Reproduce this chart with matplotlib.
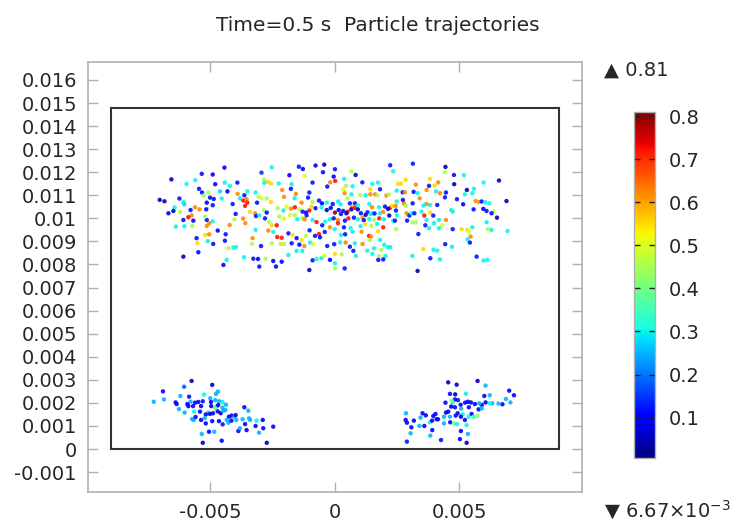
import numpy as np
import matplotlib
matplotlib.use("Agg")
import matplotlib.pyplot as plt
from matplotlib.patches import Rectangle

# Particle positions at t = 0.5 s, (x [mm], y [mm], speed [m/s])
upper_pts = [
    (-4.44,12.20,.10),(-2.54,12.21,.30),(-1.45,12.24,.12),(-1.29,12.14,.10),(-0.78,12.29,.10),(-0.43,12.33,.05),(-0.48,12.00,.12),(0.00,12.13,.12),
    (-5.35,11.93,.12),(-4.91,11.90,.10),(-2.95,11.98,.15),(-1.83,11.87,.10),(-1.22,11.84,.50),(-0.05,11.81,.10),
    (-6.57,11.69,.05),(-5.61,11.65,.30),(-2.85,11.69,.45),(-2.69,11.59,.55),(-2.58,11.51,.55),(-2.84,11.54,.30),(-2.26,11.51,.30),(-1.74,11.48,.30),(-0.90,11.55,.12),(-0.19,11.56,.62),(0.01,11.62,.72),
    (-5.96,11.49,.30),(-4.81,11.48,.10),(-4.43,11.55,.30),(-3.92,11.55,.12),(-4.22,11.41,.30),
    (-5.46,11.28,.12),(-4.62,11.17,.28),(-4.32,11.17,.10),(-5.34,11.12,.10),(-5.09,11.12,.45),(-5.27,11.00,.42),(-3.91,11.06,.62),(-3.64,11.00,.12),(-3.52,11.17,.30),(-3.19,11.12,.30),(-2.12,11.23,.62),(-1.77,11.28,.12),(-1.57,11.06,.62),(-1.03,11.12,.12),(-0.31,11.38,.12),
    (-7.04,10.80,.05),(-6.85,10.74,.05),(-6.25,10.86,.12),(-6.09,10.70,.30),(-5.02,10.90,.12),(-4.87,10.84,.12),(-4.55,10.86,.30),(-4.11,10.62,.12),(-3.82,10.87,.30),(-3.68,10.77,.72),(-3.55,10.83,.62),(-3.07,10.93,.45),(-2.95,10.87,.50),(-3.13,10.68,.12),(-2.74,10.86,.45),(-2.58,10.71,.55),(-2.05,10.93,.62),(-1.62,10.87,.30),(-1.34,10.68,.62),(-1.08,10.90,.12),(-0.90,10.70,.45),(-0.64,10.77,.12),(-0.52,10.65,.10),(-0.33,10.68,.30),(-0.09,10.62,.12),(0.13,10.73,.30),
    (-6.44,10.47,.30),(-6.05,10.61,.28),(-6.49,10.32,.05),(-6.69,10.22,.10),(-6.22,10.28,.45),(-5.80,10.36,.12),(-5.62,10.48,.62),(-5.44,10.39,.62),(-5.17,10.39,.10),(-4.91,10.57,.12),(-5.15,10.68,.10),(-3.61,10.54,.72),(-3.52,10.68,.72),(-3.41,10.28,.55),(-3.21,10.22,.62),(-2.85,10.36,.45),(-2.74,10.25,.12),(-2.30,10.44,.45),(-2.07,10.34,.30),(-1.94,10.51,.50),(-1.77,10.42,.62),(-1.61,10.48,.72),(-1.43,10.39,.45),(-1.30,10.29,.12),(-1.16,10.25,.10),(-1.03,10.34,.72),(-0.94,10.51,.55),(-0.78,10.44,.12),(-0.54,10.48,.30),(-0.33,10.36,.05),(-0.17,10.45,.10),(0.00,10.25,.80),(0.15,10.36,.10),
    (-6.09,9.93,.12),(-5.76,10.13,.62),(-5.89,10.05,.72),(-5.69,9.90,.10),(-5.15,9.93,.12),(-5.22,10.08,.45),(-4.91,9.87,.30),(-4.04,9.95,.45),(-3.99,10.19,.12),(-3.69,9.99,.62),(-3.60,9.79,.62),(-3.17,10.10,.12),(-3.04,10.13,.30),(-2.81,10.00,.12),(-2.64,9.84,.45),(-2.54,9.70,.55),(-2.34,9.70,.72),(-2.24,10.08,.45),(-2.05,9.99,.50),(-1.81,10.13,.50),(-1.61,10.13,.45),(-1.51,9.96,.30),(-1.31,10.00,.45),(-1.22,9.96,.62),(-1.14,10.13,.12),(-0.90,9.93,.30),(-0.74,9.84,.72),(-0.51,9.70,.12),(-0.39,9.86,.30),(-0.20,9.96,.30),(-0.05,10.00,.12),(0.12,9.93,.62),
    (-6.39,9.64,.30),(-6.05,9.66,.30),(-5.73,9.67,.45),(-5.15,9.67,.62),(-5.05,9.79,.62),(-4.71,9.47,.10),(-4.23,9.71,.62),(-4.39,9.31,.12),(-3.19,9.50,.30),(-3.31,9.14,.62),(-2.68,9.47,.62),(-2.48,9.41,.30),(-2.32,9.19,.72),(-2.14,9.16,.72),(-1.87,9.35,.12),(-1.70,9.28,.55),(-1.54,9.14,.12),(-1.34,9.06,.55),(-1.16,9.24,.45),(-1.02,9.48,.12),(-0.80,9.24,.12),(-0.64,9.32,.72),(-0.41,9.41,.12),(-0.20,9.61,.62),(-0.01,9.53,.30),(0.12,9.79,.72),
    (-5.56,9.14,.12),(-5.53,8.92,.55),(-5.21,9.28,.55),(-5.05,9.31,.62),(-5.11,9.01,.30),(-4.89,8.89,.12),(-4.42,9.03,.12),(-4.08,8.73,.30),(-4.28,8.70,.45),(-3.98,8.75,.30),(-3.33,8.89,.45),(-2.97,8.80,.12),(-2.54,8.92,.45),(-2.18,8.89,.55),(-2.05,8.89,.45),(-1.74,8.92,.12),(-1.43,8.86,.10),(-1.23,8.80,.62),(-1.00,8.95,.30),(-0.87,8.89,.50),(-0.60,9.18,.12),(-0.31,8.80,.12),(-0.03,8.88,.12),
    (-6.09,8.34,.05),(-5.49,8.53,.10),(-3.65,8.31,.30),(-3.28,8.25,.12),(-3.09,8.24,.10),(-2.78,8.25,.45),(-2.48,8.15,.10),(-2.14,8.12,.10),(-1.87,8.41,.30),(-1.54,8.59,.30),(-1.31,8.59,.30),(-0.90,8.18,.12),(-0.74,8.24,.30),(-0.54,8.27,.30),(-0.43,8.38,.50),(-0.20,8.20,.10),(0.00,8.46,.55),(0.00,8.05,.30),
    (-4.35,8.20,.30),(-4.48,7.98,.10),(-3.04,7.91,.12),(-2.37,7.91,.10),(-1.03,7.76,.05),(0.00,7.83,.45),
    (2.22,12.30,.12),(3.13,12.37,.12),(2.34,12.04,.30),(4.44,12.23,.05),(4.42,12.01,.45),(4.78,11.88,.12),(5.18,11.87,.30),(0.83,11.88,.05),(0.66,12.03,.45),(0.37,11.71,.30),(6.59,11.64,.05),(5.97,11.55,.30),
    (1.10,11.56,.12),(1.50,11.49,.30),(1.73,11.55,.30),(0.71,11.39,.30),(0.44,11.41,.45),(0.33,11.26,.50),(1.42,11.26,.55),(1.81,11.26,.12),(2.54,11.51,.55),(2.65,11.51,.55),(2.84,11.67,.55),(3.25,11.46,.62),(3.82,11.71,.55),(4.15,11.56,.62),(4.00,11.42,.55),(3.78,11.41,.12),(4.79,11.48,.05),(5.30,11.23,.05),(5.58,11.28,.30),(4.46,11.12,.12),(4.42,10.91,.12),
    (0.39,11.09,.62),(0.66,11.04,.30),(1.02,11.01,.45),(1.23,11.00,.30),(1.42,11.04,.62),(1.61,11.04,.62),(1.71,10.99,.45),(2.07,10.99,.62),(2.16,11.03,.45),(2.48,11.20,.30),(2.72,11.13,.12),(2.81,11.13,.62),(3.16,11.15,.12),(3.32,11.09,.30),(3.68,11.23,.62),(4.06,11.17,.30),(4.22,11.09,.62),(3.40,10.87,.62),(3.12,10.65,.12),(2.77,10.65,.62),(2.85,10.54,.45),(2.48,10.73,.30),(2.73,10.80,.12),
    (5.22,11.04,.30),(5.52,11.09,.30),(4.90,10.83,.12),(5.15,10.61,.10),(4.67,10.36,.30),(4.73,10.29,.30),(5.65,10.75,.62),(5.76,10.71,.60),(5.89,10.73,.12),(6.04,10.70,.30),(6.20,10.65,.30),(5.96,10.41,.10),(6.09,10.32,.12),(6.36,10.29,.45),(6.29,10.22,.12),(5.57,10.39,.12),(6.89,10.75,.05),(6.51,10.03,.05),(6.09,9.83,.30),
    (0.51,10.87,.45),(0.60,10.65,.12),(0.80,10.65,.12),(0.23,10.61,.30),(0.92,10.57,.30),(1.38,10.62,.30),(1.49,10.48,.62),(1.77,10.48,.30),(1.94,10.28,.62),(2.01,10.51,.12),(2.21,10.45,.72),(2.30,10.54,.55),(2.13,10.41,.05),(2.44,10.54,.62),(0.68,10.47,.62),(0.51,10.29,.72),(0.33,10.32,.12),(0.46,10.22,.05),(0.24,10.19,.12),
    (0.66,10.39,.05),(0.79,10.45,.72),(0.92,10.39,.05),(1.04,10.22,.12),(1.23,10.15,.05),(1.31,10.26,.12),(1.43,10.19,.30),(1.51,10.22,.30),(1.59,10.21,.12),(1.81,10.22,.30),(2.18,10.12,.05),(2.45,10.34,.12),(2.49,10.13,.30),(2.88,10.22,.62),(2.99,10.12,.12),(3.08,10.22,.30),(3.19,10.22,.12),(3.48,10.29,.30),(3.59,10.12,.72),(3.82,10.25,.55),(3.95,10.12,.12),(4.11,10.58,.12),(3.82,10.58,.30),(3.67,10.62,.62),(3.55,10.55,.30),
    (0.40,9.90,.12),(0.54,10.00,.72),(0.76,10.03,.12),(0.92,9.96,.30),(1.11,10.03,.62),(1.16,9.92,.12),(1.38,9.97,.30),(1.57,9.93,.45),(1.78,10.00,.72),(1.97,9.96,.30),(2.34,9.90,.30),(2.41,9.90,.12),(2.90,9.90,.12),(3.11,9.82,.45),(3.25,9.82,.45),(3.63,9.70,.12),(3.78,9.57,.30),(3.68,9.93,.30),(4.18,9.93,.30),(3.98,9.79,.30),(4.46,9.93,.62),(4.31,9.71,.50),(4.18,9.57,.30),
    (0.36,9.61,.12),(0.63,9.58,.30),(1.03,9.66,.30),(1.07,9.42,.62),(1.22,9.74,.55),(1.47,9.67,.45),(1.69,9.76,.30),(1.73,9.44,.55),(1.94,9.61,.72),(2.46,9.53,.45),(4.73,9.53,.12),(5.09,9.53,.55),(5.31,9.50,.55),(5.52,9.61,.30),(6.14,9.54,.45),(6.29,9.50,.30),(6.93,9.45,.30),
    (0.24,9.28,.30),(0.41,9.31,.12),(0.71,9.42,.30),(1.37,9.24,.72),(1.41,9.06,.45),(1.45,9.21,.62),(1.81,9.06,.30),(3.35,9.32,.12),
    (0.21,8.96,.30),(0.43,8.95,.62),(0.60,8.77,.12),(0.80,8.92,.30),(1.11,8.89,.62),(1.30,8.60,.30),(1.57,8.70,.30),(1.87,8.63,.45),(1.98,8.85,.30),(2.13,8.75,.30),(2.22,8.75,.30),(3.55,8.67,.55),(3.96,8.64,.30),(4.11,8.60,.30),(4.43,8.88,.12),(4.70,8.77,.30),(5.33,9.09,.30),(5.42,8.95,.12),(5.45,9.21,.62),(5.39,9.42,.50),
    (0.27,8.44,.45),(0.84,8.37,.30),(0.74,8.59,.12),(1.50,8.46,.30),(1.78,8.37,.45),(2.03,8.37,.30),(1.74,8.20,.12),(1.94,8.22,.12),(3.11,8.37,.30),(3.83,8.27,.12),(4.22,8.22,.30),(5.69,8.34,.12),(5.97,8.17,.30),(6.12,8.20,.30),
    (0.39,7.83,.12),(3.32,7.72,.05),
]

lower_left_pts = [
    (-5.76,2.95,.05),(-4.93,2.78,.05),(-6.06,2.70,.18),(-6.91,2.50,.10),(-4.70,2.49,.25),(-4.78,2.39,.25),(-5.26,2.36,.30),
    (-7.28,2.05,.25),(-6.87,2.15,.25),(-6.21,2.30,.25),(-5.86,2.27,.12),(-6.40,2.02,.10),(-6.36,1.95,.10),(-5.80,2.05,.25),
    (-5.62,2.01,.10),(-5.49,2.04,.10),(-5.31,2.07,.12),(-5.01,2.20,.25),(-4.98,2.04,.10),(-4.81,2.12,.25),(-4.65,2.07,.25),
    (-4.52,2.04,.30),(-4.38,1.92,.25),(-6.27,1.73,.25),(-5.93,1.95,.10),(-5.89,1.86,.10),(-5.70,1.86,.10),(-5.38,1.86,.10),
    (-6.04,1.58,.25),(-5.66,1.62,.30),(-5.42,1.62,.10),(-4.97,1.86,.05),(-4.75,1.84,.25),(-4.69,1.91,.10),(-4.82,1.76,.40),
    (-4.52,1.79,.25),(-5.09,1.58,.28),(-5.19,1.50,.10),(-5.02,1.52,.08),(-4.90,1.55,.10),(-4.71,1.63,.08),(-4.59,1.55,.10),
    (-4.48,1.66,.25),(-4.40,1.69,.25),(-3.64,1.81,.10),(-3.48,1.66,.25),(-4.15,1.45,.10),(-4.04,1.40,.25),(-3.99,1.47,.10),
    (-4.26,1.40,.10),(-4.35,1.26,.25),(-5.74,1.30,.25),(-5.68,1.26,.25),(-5.60,1.39,.10),(-5.38,1.26,.10),(-5.23,1.34,.25),
    (-5.19,1.11,.10),(-4.93,1.21,.10),(-4.66,1.21,.10),(-4.51,1.07,.12),(-4.28,1.14,.25),(-4.16,1.23,.10),(-3.96,1.26,.25),
    (-3.71,1.29,.25),(-3.61,1.08,.10),(-3.45,1.33,.25),(-3.41,1.26,.25),(-3.15,1.23,.30),(-2.90,1.26,.10),(-3.55,0.82,.10),
    (-3.19,1.00,.10),(-2.88,0.90,.10),(-2.48,0.97,.10),(-3.88,0.78,.10),(-3.82,0.90,.25),(-5.06,0.75,.10),(-4.85,0.75,.25),
    (-5.35,0.65,.25),(-5.31,0.27,.05),(-4.55,0.36,.10),(-3.05,0.71,.25),(-2.74,0.27,.05),
]

lower_right_pts = [
    (4.55,2.89,.05),(4.89,2.79,.05),(5.73,2.95,.05),(6.05,2.75,.25),(4.62,2.39,.10),(4.83,2.37,.05),(5.26,2.40,.30),
    (6.00,2.30,.10),(6.22,2.33,.25),(7.00,2.53,.10),(7.19,2.33,.10),(6.87,2.17,.25),(7.05,2.02,.25),(6.73,1.94,.10),
    (6.57,1.97,.25),(6.32,1.98,.25),(6.22,1.98,.30),(6.05,2.02,.10),(5.90,1.91,.08),(5.80,1.98,.25),(5.62,1.95,.10),
    (5.46,2.02,.10),(5.34,2.05,.10),(5.23,2.01,.10),(5.05,1.92,.10),(4.94,2.12,.12),(4.82,2.15,.10),(4.73,2.01,.30),
    (4.67,1.84,.10),(4.82,1.81,.10),(4.44,2.01,.10),(4.69,2.10,.40),(4.55,1.62,.10),(5.07,1.75,.25),(5.38,1.81,.10),
    (5.77,1.72,.10),(5.90,1.76,.25),(5.49,1.52,.10),(5.13,1.50,.30),(5.37,1.40,.30),(5.57,1.40,.35),(5.72,1.43,.40),
    (4.93,1.55,.10),(4.85,1.45,.10),(5.06,1.40,.10),(4.46,1.58,.10),(4.62,1.40,.25),(4.38,1.40,.25),(4.14,1.29,.10),
    (4.38,1.11,.25),(4.63,1.16,.10),(4.78,1.11,.40),(4.90,1.08,.30),(5.22,1.26,.10),(5.29,1.04,.30),(5.06,0.78,.10),
    (5.34,0.65,.25),(5.02,0.43,.10),(5.29,0.27,.05),(4.26,0.39,.12),(3.83,0.58,.25),(3.91,0.82,.10),(3.59,1.00,.10),
    (3.39,1.00,.25),(3.07,0.94,.10),(2.85,1.55,.25),(2.84,1.26,.10),(2.89,1.14,.10),(3.17,1.23,.10),(3.44,1.36,.25),
    (3.52,1.55,.10),(3.65,1.46,.10),(3.82,1.16,.30),(3.90,1.23,.10),(3.95,1.43,.10),(4.04,1.52,.10),(4.08,1.29,.10),
    (3.04,0.68,.25),(2.89,0.32,.12),
]

# Channel outline (x0, y0, width, height) in mm
channel = (-9.0, 0.0, 18.0, 14.8)

y_ticks = [-0.001, 0, 0.001, 0.002, 0.003, 0.004, 0.005, 0.006, 0.007, 0.008,
           0.009, 0.01, 0.011, 0.012, 0.013, 0.014, 0.015, 0.016]
y_labels = ['-0.001', '0', '0.001', '0.002', '0.003', '0.004', '0.005', '0.006', '0.007',
            '0.008', '0.009', '0.01', '0.011', '0.012', '0.013', '0.014', '0.015', '0.016']
x_ticks = [-0.005, 0, 0.005]
x_labels = ['-0.005', '0', '0.005']
cb_ticks = [0.1, 0.2, 0.3, 0.4, 0.5, 0.6, 0.7, 0.8]
v_min, v_max = 6.67e-3, 0.81

pts = np.array(upper_pts + lower_left_pts + lower_right_pts)
xs = pts[:, 0] * 1e-3
ys = pts[:, 1] * 1e-3
vs = pts[:, 2]

grey = '#b0b0b0'
txt = '#262626'
fs = 14

fig = plt.figure(figsize=(7.46, 5.25), dpi=100)
ax = fig.add_axes([0.118, 0.063, 0.662, 0.819])

ax.add_patch(Rectangle((channel[0] * 1e-3, channel[1] * 1e-3), channel[2] * 1e-3,
                       channel[3] * 1e-3, fill=False, edgecolor='#333333', lw=1.5, zorder=1))
sc = ax.scatter(xs, ys, c=vs, cmap='jet', vmin=v_min, vmax=v_max, s=10,
                linewidths=0, alpha=0.9, zorder=2)

ax.set_xlim(-0.00992, 0.00992)
ax.set_ylim(-0.00186, 0.01678)
ax.set_xticks(x_ticks)
ax.set_xticklabels(x_labels)
ax.set_yticks(y_ticks)
ax.set_yticklabels(y_labels)
ax.tick_params(direction='in', length=7.5, width=1, color=grey, labelcolor=txt,
               labelsize=fs, top=True, right=True, pad=8)
for s in ax.spines.values():
    s.set_color(grey)
    s.set_linewidth(1.2)

fig.text(0.507, 0.952, 'Time=0.5 s  Particle trajectories', ha='center', va='center',
         fontsize=14.5, color=txt)

# colour legend
cax = fig.add_axes([0.850, 0.128, 0.028, 0.659])
cb = fig.colorbar(sc, cax=cax, ticks=cb_ticks)
cb.solids.set_alpha(1)
cb.ax.set_yticklabels([str(t) for t in cb_ticks])
cb.ax.tick_params(direction='in', length=4, width=1, color='#202020', labelcolor=txt,
                  labelsize=fs, left=True, right=True, pad=10)
cb.outline.set_edgecolor(grey)
cb.outline.set_linewidth(1)

fig.text(0.810, 0.866, '\u25b2 %.2f' % v_max, ha='left', va='center', fontsize=fs, color=txt)
fig.text(0.810, 0.029, '\u25bc 6.67\u00d710$^{-3}$', ha='left', va='center',
         fontsize=fs, color=txt)

fig.savefig('out.png', dpi=100)
